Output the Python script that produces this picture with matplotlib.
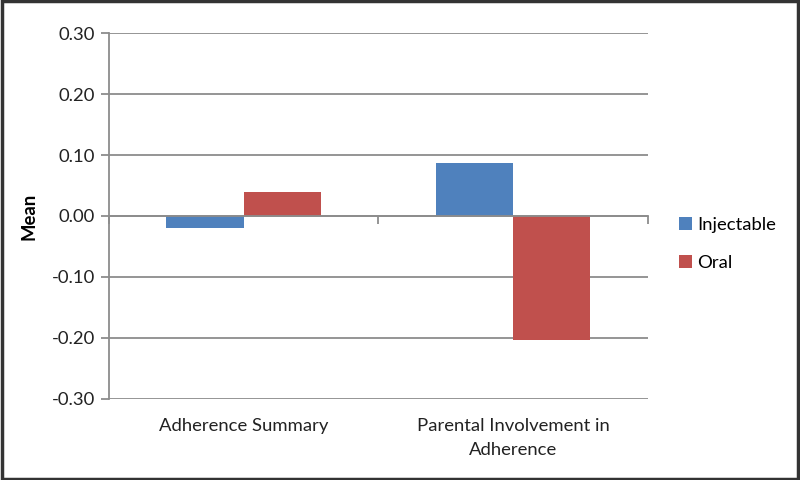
import numpy as np
import matplotlib.pyplot as plt
from matplotlib.patches import Rectangle
from matplotlib.transforms import blended_transform_factory

# Data
categories = ["Adherence Summary", "Parental Involvement in\nAdherence"]
series = ["Injectable", "Oral"]
injectable = [-0.02, 0.087]
oral = [0.039, -0.204]
colors = ["#4F81BD", "#C0504D"]
yticks = [-0.30, -0.20, -0.10, 0.00, 0.10, 0.20, 0.30]

plt.rcParams['font.family'] = ['Lato', 'DejaVu Sans']
grid_col = "#8c8c8c"
fs = 13.3

fig = plt.figure(figsize=(8, 4.8), dpi=100)
ax = fig.add_axes([0.136, 0.169, 0.674, 0.762])

x = np.arange(len(categories))
w = 0.286
b1 = ax.bar(x - w / 2, injectable, w, color=colors[0], label=series[0], zorder=3)
b2 = ax.bar(x + w / 2, oral, w, color=colors[1], label=series[1], zorder=3)

ax.set_xlim(-0.5, len(categories) - 0.5)
ax.set_ylim(yticks[0], yticks[-1])
ax.set_yticks(yticks)
ax.set_yticklabels([f"{v:.2f}" for v in yticks], fontsize=fs, color="#222222")
ax.yaxis.grid(True, color=grid_col, linewidth=1.3, zorder=0)
ax.tick_params(axis="y", length=6, width=1.3, color=grid_col, pad=4)

# Horizontal axis at zero with ticks at category boundaries
ax.spines["bottom"].set_position(("data", 0))
ax.spines["bottom"].set_color(grid_col)
ax.spines["bottom"].set_linewidth(1.3)
ax.spines["bottom"].set_zorder(4)
ax.set_xticks(np.arange(len(categories) + 1) - 0.5)
ax.set_xticklabels([])
ax.tick_params(axis="x", length=6, width=1.3, color=grid_col, direction="out")
for s in ["top", "right"]:
    ax.spines[s].set_visible(False)
ax.spines["left"].set_color(grid_col)
ax.spines["left"].set_linewidth(1.3)

trans = blended_transform_factory(ax.transData, ax.transAxes)
for xi, lab in zip(x, categories):
    ax.text(xi, -0.052, lab, transform=trans, ha="center", va="top",
            fontsize=fs, color="#222222", linespacing=1.6)

ax.set_ylabel("Mean", fontsize=fs, fontweight="bold", labelpad=10)

leg = fig.legend(handles=[b1, b2], loc="upper left", bbox_to_anchor=(0.828, 0.582),
                 frameon=False, fontsize=fs, handlelength=0.7, handleheight=0.7,
                 handletextpad=0.3, labelspacing=1.15)

fig.patches.append(Rectangle((0.002, 0.003), 0.996, 0.994, transform=fig.transFigure,
                             fill=False, edgecolor="#333333", linewidth=2.5))

fig.savefig("out.png", dpi=100)
